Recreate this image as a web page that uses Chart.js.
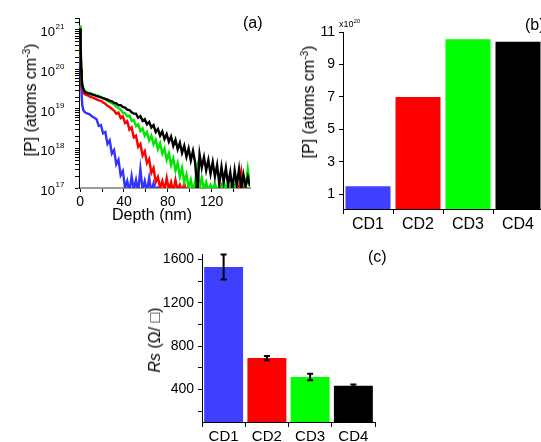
<!DOCTYPE html>
<html>
<head>
<meta charset="utf-8">
<script src="https://cdn.jsdelivr.net/npm/chart.js@4/dist/chart.umd.min.js"></script>
<style>
  html, body { margin: 0; padding: 0; background: #fff; }
  body { width: 541px; height: 442px; overflow: hidden; position: relative;
         font-family: "Liberation Sans", Arial, sans-serif; color: #000; }
  canvas { position: absolute; }
  .lbl { position: absolute; white-space: nowrap; font-size: 16px; line-height: 1; }
  .rot { transform: translate(-50%, -50%) rotate(-90deg); }
  sup { font-size: 10px; vertical-align: 6px; line-height: 0; }
</style>
</head>
<body>
<canvas id="ca" width="270" height="230" style="left:0;top:0"></canvas>
<canvas id="cb" width="290" height="240" style="left:270px;top:0"></canvas>
<canvas id="cc" width="260" height="212" style="left:150px;top:230px"></canvas>

<div class="lbl" style="left:243px;top:15px">(a)</div>
<div class="lbl" style="left:525px;top:17px">(b)</div>
<div class="lbl" style="left:368px;top:249px">(c)</div>
<div class="lbl" style="left:339px;top:20px;font-size:9px">x10<sup style="font-size:6px;vertical-align:4px">20</sup></div>
<div class="lbl" style="left:112px;top:207px">Depth (nm)</div>
<div class="lbl rot" style="left:31px;top:100px">[P] (atoms cm<sup>-3</sup>)</div>
<div class="lbl rot" style="left:309px;top:102px">[P] (atoms cm<sup>-3</sup>)</div>
<div class="lbl rot" style="left:155px;top:340px"><i>Rs</i> (&Omega;/ &#9633;)</div>

<script>
// ---- (a) SIMS profiles, depth in nm, [P] in atoms/cm3
const depth = [0, 0.5, 1, 1.5, 2, 3, 4,
  5, 7, 9, 11, 13, 15, 17, 19, 21, 23, 25, 27, 29, 31, 33, 35, 37, 39, 41, 43, 45, 47, 49,
  51, 53, 55, 57, 59, 61, 63, 65, 67, 69, 71, 73, 75, 77, 79, 81, 83, 85, 87, 89, 91, 93, 95,
  97, 99, 101, 103, 105, 107, 109, 111, 113, 115, 117, 119, 121, 123, 125, 127, 129, 131,
  133, 135, 137, 139, 141, 143, 145, 147, 149, 151, 153, 155];

const cd1Profile = [2.5e20, 1e20, 4e19, 2e19, 1.25e19, 9.3e18, 8.5e18,
  8.0e18, 7.6e18, 7.2e18, 6.4e18, 6.0e18, 5.5e18, 3.7e18, 3.9e18, 2.4e18, 2.6e18, 1.3e18,
  1.6e18, 7.4e17, 9.1e17, 4.0e17, 5.2e17, 2.1e17, 2.7e17, 1.0e17, 1.5e17, 0.8e17, 2.0e17,
  0.9e17, 1.6e17, 0.8e17, 3.0e17, 0.9e17, 1.5e17, 0.8e17, 1.8e17, 0.8e17, 1.3e17, 0.8e17, 1.1e17];

const cd2Profile = [7e20, 2.5e20, 9e19, 4.5e19, 3.2e19, 2.6e19, 2.4e19,
  2.3e19, 2.2e19, 2.05e19, 1.95e19, 1.85e19, 1.75e19, 1.65e19, 1.6e19, 1.45e19, 1.35e19,
  1.2e19, 1.12e19, 1.0e19, 9.1e18, 7.6e18, 8.1e18, 5.9e18, 6.5e18, 4.4e18, 4.9e18, 3.0e18,
  3.4e18, 1.9e18, 2.1e18, 1.1e18, 1.3e18, 6.6e17, 8.5e17, 4.3e17, 5.4e17, 2.4e17, 3.2e17,
  1.4e17, 1.9e17, 1.0e17, 1.5e17, 0.9e17, 1.8e17, 0.9e17, 1.4e17, 0.8e17, 1.6e17, 0.9e17,
  1.2e17, 0.8e17, 1.3e17, 0.8e17, 1.1e17, 0.7e17, 0.8e17, 1.0e17, 2.2e17, 0.8e17, 0.7e17,
  0.9e17, 0.7e17, 0.8e17, 0.7e17, 0.9e17, 0.7e17, 0.8e17, 0.7e17, 1.1e17, 0.7e17, 0.8e17,
  0.7e17, 0.9e17, 0.7e17, 0.8e17, 0.7e17, 1.0e17, 2.5e17, 0.8e17, 0.7e17, 0.9e17, 0.7e17];

const cd3Profile = [1.3e21, 4.5e20, 1.1e20, 5.8e19, 4.2e19, 3.3e19, 2.9e19,
  2.75e19, 2.6e19, 2.5e19, 2.4e19, 2.3e19, 2.2e19, 2.1e19, 2.0e19, 1.85e19, 1.75e19, 1.6e19,
  1.5e19, 1.4e19, 1.3e19, 1.15e19, 1.05e19, 9.6e18, 8.0e18, 7.8e18, 6.5e18, 6.8e18, 5.0e18,
  5.2e18, 3.7e18, 4.1e18, 2.75e18, 3.2e18, 2.1e18, 2.6e18, 1.6e18, 2.1e18, 1.26e18, 1.66e18,
  9.5e17, 1.35e18, 7.4e17, 1.0e18, 5.2e17, 7.6e17, 3.8e17, 5.6e17, 2.75e17, 4.3e17, 1.95e17,
  3.2e17, 1.4e17, 2.2e17, 1.0e17, 1.6e17, 0.8e17, 1.5e17, 3.3e17, 1.0e17, 1.8e17, 0.9e17,
  1.4e17, 0.85e17, 1.2e17, 0.9e17, 1.3e17, 0.85e17, 1.1e17, 0.9e17, 1.5e17, 0.9e17, 1.3e17,
  0.9e17, 1.4e17, 1.0e17, 1.6e17, 2.2e17, 1.1e17, 1.6e17, 1.0e17, 3.0e17, 1.2e17];

const cd4Profile = [1.1e21, 4e20, 1e20, 5.6e19, 4e19, 3.2e19, 2.8e19,
  2.6e19, 2.5e19, 2.45e19, 2.3e19, 2.25e19, 2.1e19, 2.05e19, 1.95e19, 1.88e19, 1.8e19,
  1.72e19, 1.6e19, 1.56e19, 1.42e19, 1.38e19, 1.25e19, 1.24e19, 1.12e19, 1.08e19, 9.6e18,
  9.4e18, 8.2e18, 7.6e18, 7.6e18, 6.0e18, 6.6e18, 5.0e18, 5.5e18, 4.1e18, 4.7e18, 3.4e18,
  3.9e18, 2.6e18, 3.1e18, 2.1e18, 2.7e18, 1.74e18, 2.3e18, 1.48e18, 2.0e18, 1.17e18, 1.66e18,
  9.5e17, 1.4e18, 7.8e17, 1.17e18, 6.2e17, 1.0e18, 5.0e17, 8.7e17, 4.3e17, 0.8e17, 7.1e17,
  3.3e17, 6.0e17, 2.8e17, 5.1e17, 2.3e17, 4.5e17, 1.95e17, 3.8e17, 1.25e17, 3.4e17, 1.45e17,
  3.2e17, 1.2e17, 2.5e17, 0.9e17, 2.8e17, 1.2e17, 3.0e17, 1.0e17, 2.2e17, 1.1e17, 1.9e17, 1.1e17];

const depthTicks = [0, 20, 40, 60, 80, 100, 120, 140];
const depthTickLabels = [0, 40, 80, 120];
const logDecades = [17, 18, 19, 20, 21];

// ---- (b) peak [P], x10^20 atoms/cm3
const samples = ["CD1", "CD2", "CD3", "CD4"];
const peakP = [1.5, 7.0, 10.55, 10.4];
const peakTicks = [1, 3, 5, 7, 9, 11];

// ---- (c) sheet resistance, ohm/sq
const rs = [1530, 690, 515, 435];
const rsErr = [115, 20, 30, 12];
const rsTicks = [200, 400, 600, 800, 1000, 1200, 1400, 1600];
const rsTickLabels = [400, 800, 1200, 1600];

const colors = ["#3f3fff", "#ff0000", "#00ff00", "#000000"];
const lineColors = ["#3333ff", "#ff0000", "#00e600", "#000000"];

Chart.defaults.font.family = '"Liberation Sans", Arial, sans-serif';
Chart.defaults.color = "#000";
Chart.defaults.animation = false;

const $ = (id) => document.getElementById(id);

const toPoints = (vals) => vals.map((v, i) => ({ x: depth[i], y: v }));

const axisGrid = (len) => ({ drawOnChartArea: false, drawTicks: true, tickLength: len, tickColor: "#000" });

// superscript decade labels on the log axis
const logLabels = {
  id: "logLabels",
  afterDraw(chart) {
    const y = chart.scales.y;
    const ctx = chart.ctx;
    const right = y.right - 24;
    ctx.save();
    ctx.fillStyle = "#000";
    ctx.textBaseline = "middle";
    logDecades.forEach((p) => {
      const py = y.getPixelForValue(Math.pow(10, p));
      ctx.font = '13px "Liberation Sans", Arial';
      ctx.textAlign = "right";
      ctx.fillText("10", right, py + 3);
      ctx.font = '8px "Liberation Sans", Arial';
      ctx.textAlign = "left";
      ctx.fillText(String(p), right + 0.5, py - 3);
    });
    ctx.restore();
  },
};

new Chart($("ca"), {
  type: "line",
  data: {
    datasets: [
      { label: "CD4", data: toPoints(cd4Profile), borderColor: lineColors[3] },
      { label: "CD3", data: toPoints(cd3Profile), borderColor: lineColors[2] },
      { label: "CD2", data: toPoints(cd2Profile), borderColor: lineColors[1] },
      { label: "CD1", data: toPoints(cd1Profile), borderColor: lineColors[0] },
    ],
  },
  options: {
    responsive: false,
    devicePixelRatio: 1,
    layout: { padding: { top: 18, right: 20, left: 0, bottom: 0 } },
    elements: { point: { radius: 0 }, line: { borderWidth: 2.4, tension: 0 } },
    plugins: { legend: { display: false }, tooltip: { enabled: false } },
    scales: {
      x: {
        type: "linear",
        min: -1,
        max: 155,
        afterBuildTicks: (s) => { s.ticks = depthTicks.map((v) => ({ value: v })); },
        afterFit: (s) => { s.height = 42; },
        ticks: {
          font: { size: 14 },
          padding: 2,
          maxRotation: 0,
          autoSkip: false,
          callback: (v) => (depthTickLabels.includes(v) ? String(v) : ""),
        },
        grid: axisGrid(4),
        border: { color: "#9a9a9a", width: 2 },
      },
      y: {
        type: "logarithmic",
        min: 1e17,
        max: 2e21,
        afterFit: (s) => { s.width = 79; },
        ticks: { callback: () => "", autoSkip: false },
        grid: axisGrid(4),
        border: { color: "#000", width: 1 },
      },
    },
  },
  plugins: [logLabels],
});

new Chart($("cb"), {
  type: "bar",
  data: {
    labels: samples,
    datasets: [{ data: peakP, backgroundColor: colors, barPercentage: 0.9, categoryPercentage: 1 }],
  },
  options: {
    responsive: false,
    devicePixelRatio: 1,
    layout: { padding: { top: 32, right: 17, left: 0, bottom: 0 } },
    plugins: { legend: { display: false }, tooltip: { enabled: false } },
    scales: {
      x: {
        afterFit: (s) => { s.height = 31; },
        ticks: { font: { size: 16 }, padding: 1 },
        grid: { ...axisGrid(5), offset: true },
        border: { color: "#000", width: 1 },
      },
      y: {
        min: 0.1,
        max: 11,
        afterBuildTicks: (s) => { s.ticks = peakTicks.map((v) => ({ value: v })); },
        afterFit: (s) => { s.width = 73; },
        ticks: { font: { size: 14 }, padding: 4, autoSkip: false },
        grid: axisGrid(4),
        border: { color: "#000", width: 1 },
      },
    },
  },
});

// error bars from rsErr
const errorBars = {
  id: "errorBars",
  afterDatasetsDraw(chart) {
    const meta = chart.getDatasetMeta(0);
    const y = chart.scales.y;
    const ctx = chart.ctx;
    ctx.save();
    ctx.strokeStyle = "#000";
    ctx.lineWidth = 2;
    meta.data.forEach((bar, i) => {
      const top = y.getPixelForValue(rs[i] + rsErr[i]);
      const bot = y.getPixelForValue(rs[i] - rsErr[i]);
      ctx.beginPath();
      ctx.moveTo(bar.x, top); ctx.lineTo(bar.x, bot);
      ctx.moveTo(bar.x - 3, top); ctx.lineTo(bar.x + 3, top);
      ctx.moveTo(bar.x - 3, bot); ctx.lineTo(bar.x + 3, bot);
      ctx.stroke();
    });
    ctx.restore();
  },
};

new Chart($("cc"), {
  type: "bar",
  data: {
    labels: samples,
    datasets: [{ data: rs, backgroundColor: colors, barPercentage: 0.9, categoryPercentage: 1 }],
  },
  options: {
    responsive: false,
    devicePixelRatio: 1,
    layout: { padding: { top: 24, right: 35, left: 0, bottom: 0 } },
    plugins: { legend: { display: false }, tooltip: { enabled: false } },
    scales: {
      x: {
        afterFit: (s) => { s.height = 20; },
        ticks: { font: { size: 15 }, padding: 1 },
        grid: { ...axisGrid(5), offset: true },
        border: { color: "#000", width: 1 },
      },
      y: {
        min: 100,
        max: 1650,
        afterBuildTicks: (s) => { s.ticks = rsTicks.map((v) => ({ value: v })); },
        afterFit: (s) => { s.width = 52; },
        ticks: {
          font: { size: 14 },
          padding: 4,
          autoSkip: false,
          callback: (v) => (rsTickLabels.includes(v) ? String(v) : ""),
        },
        grid: axisGrid(4),
        border: { color: "#000", width: 1 },
      },
    },
  },
  plugins: [errorBars],
});
</script>
</body>
</html>
